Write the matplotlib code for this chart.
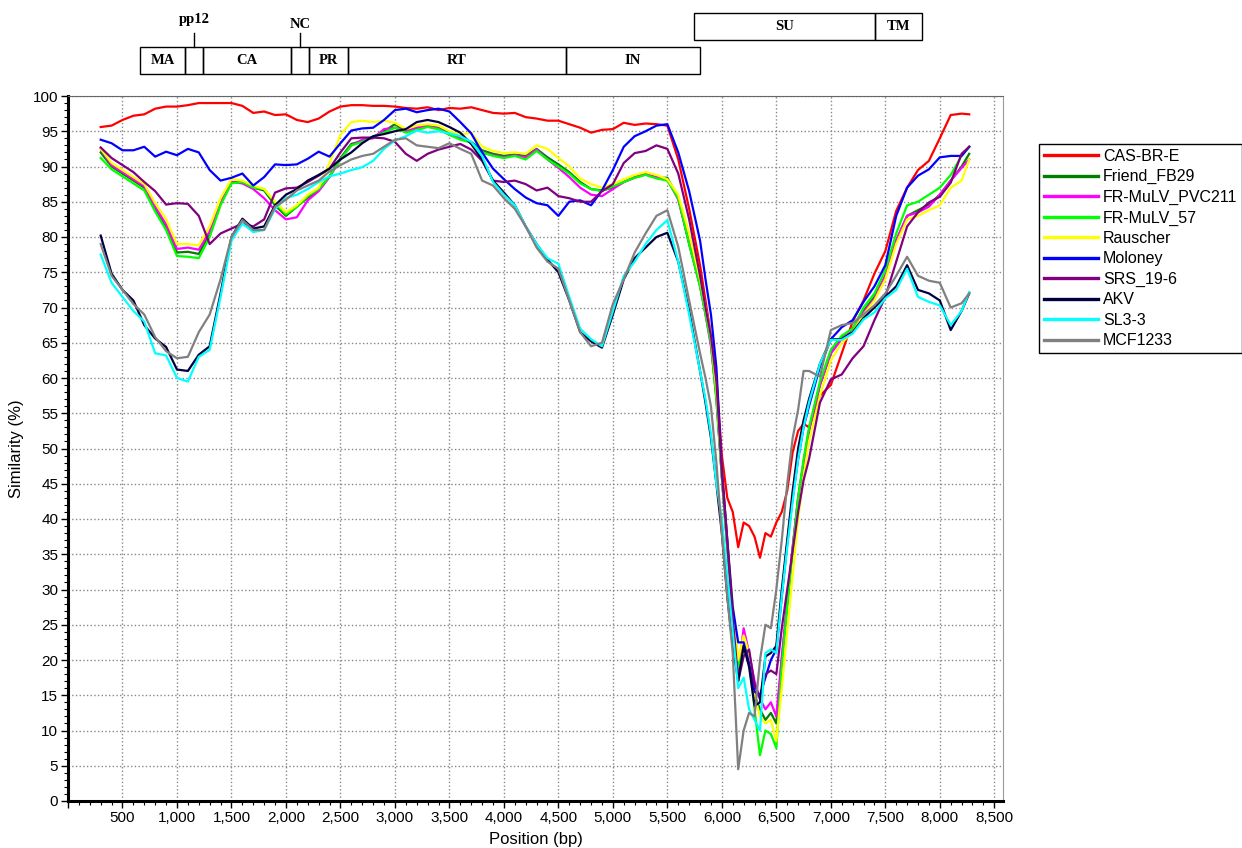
import matplotlib
matplotlib.use("Agg")
import matplotlib.pyplot as plt
from matplotlib.patches import Rectangle
from matplotlib.ticker import MultipleLocator, FuncFormatter

plt.rcParams["font.family"] = ["Liberation Sans", "DejaVu Sans"]

# window midpoints (bp): 100 bp steps, 50 bp steps through the env dip
position = (list(range(300, 5900, 100)) + list(range(5850, 6800, 50))
            + list(range(6800, 8300, 100)) + [8270])

cas_br_e = [95.6, 95.8, 96.6, 97.2, 97.4, 98.2, 98.5, 98.5, 98.7, 99.0,
            99.0, 99.0, 99.0, 98.6, 97.6, 97.8, 97.3, 97.4, 96.6, 96.3,
            96.8, 97.8, 98.5, 98.7, 98.7, 98.6, 98.6, 98.5, 98.3, 98.2,
            98.4, 98.0, 98.3, 98.2, 98.4, 98.0, 97.6, 97.5, 97.6, 97.0,
            96.8, 96.5, 96.5, 96.0, 95.5, 94.8, 95.2, 95.3, 96.2, 95.9,
            96.1, 96.0, 95.8, 91.0, 84.0, 76.0,
            71.0, 66.0, 60.0, 49.0, 43.0, 41.0, 36.0, 39.5, 39.0, 37.5,
            34.5, 38.0, 37.5, 39.5, 41.0, 44.0, 49.5, 52.5, 53.5,
            53.0, 57.5, 59.0, 63.5, 68.0, 71.0, 74.8, 78.0, 83.7, 87.0,
            89.5, 90.8, 94.0, 97.3, 97.5, 97.4]

friend_fb29 = [92.0, 90.0, 89.0, 88.0, 87.0, 84.0, 81.5, 77.8, 77.9, 77.6,
               80.5, 84.8, 87.8, 87.8, 87.0, 86.6, 84.5, 83.0, 84.3, 85.6,
               86.6, 88.6, 91.2, 93.2, 93.6, 94.2, 95.0, 96.0, 95.0, 95.5,
               95.8, 95.5, 94.7, 94.0, 93.5, 92.3, 91.8, 91.5, 91.7, 91.5,
               92.5, 91.3, 90.3, 89.2, 87.8, 86.8, 86.6, 87.0, 87.8, 88.5,
               89.0, 88.4, 88.4, 85.5, 79.0, 73.0,
               69.2, 65.0, 57.0, 46.0, 36.0, 27.0, 19.5, 22.0, 20.0, 15.0,
               13.0, 11.5, 12.5, 11.0, 20.0, 28.0, 36.0, 43.0, 48.0,
               52.5, 59.0, 63.5, 65.8, 67.0, 69.5, 71.5, 74.5, 79.5, 83.0,
               83.8, 84.6, 86.0, 88.0, 90.0, 91.8]

fr_mulv_pvc211 = [92.5, 90.2, 89.2, 88.2, 87.2, 84.3, 81.8, 78.3, 78.5, 78.2,
                  80.8, 84.8, 87.8, 87.6, 86.8, 85.5, 83.8, 82.5, 82.8, 85.2,
                  86.5, 88.5, 91.0, 93.0, 93.8, 94.0, 95.3, 95.5, 95.0, 95.5,
                  95.8, 95.4, 94.5, 94.0, 93.4, 92.0, 91.6, 91.3, 91.6, 91.3,
                  92.4, 91.0, 89.8, 88.5, 87.0, 86.0, 85.8, 86.8, 87.8, 88.4,
                  88.9, 88.5, 88.2, 85.3, 79.2, 73.2,
                  69.0, 64.5, 57.5, 46.0, 36.0, 27.0, 18.0, 24.5, 21.0, 17.0,
                  14.5, 13.0, 14.0, 12.0, 20.5, 28.0, 36.0, 43.0, 48.0,
                  52.5, 59.0, 63.5, 65.5, 67.0, 69.3, 71.2, 74.5, 79.5, 83.0,
                  83.5, 84.3, 86.0, 88.0, 89.8, 91.0]

fr_mulv_57 = [91.2, 89.6, 88.6, 87.6, 86.6, 83.6, 81.0, 77.3, 77.2, 77.0,
              80.0, 84.5, 87.6, 87.8, 87.0, 86.8, 84.8, 83.2, 84.3, 85.8,
              86.8, 88.6, 91.0, 93.0, 93.5, 94.2, 94.8, 95.5, 94.8, 95.2,
              95.6, 95.3, 94.5, 93.8, 93.4, 92.0, 91.5, 91.2, 91.5, 91.0,
              92.2, 91.0, 90.0, 89.0, 87.6, 86.8, 86.5, 87.2, 87.8, 88.4,
              88.8, 88.3, 88.0, 85.5, 79.0, 73.0,
              69.0, 65.0, 57.0, 46.0, 36.0, 27.0, 19.0, 21.5, 20.0, 13.0,
              6.5, 10.0, 9.5, 7.5, 19.0, 27.5, 35.5, 43.0, 48.5,
              53.0, 59.5, 64.0, 66.0, 67.0, 70.0, 72.0, 75.3, 80.5, 84.5,
              85.0, 86.0, 87.0, 88.8, 91.5, 92.8]

rauscher = [92.5, 90.5, 89.5, 88.5, 87.5, 84.8, 82.5, 79.0, 79.0, 78.8,
            81.5, 85.5, 88.2, 88.0, 87.3, 86.8, 85.0, 83.5, 84.5, 86.0,
            87.0, 90.5, 94.5, 96.3, 96.5, 96.3, 96.5, 96.2, 95.3, 95.8,
            96.0, 95.8, 95.0, 94.5, 94.8, 92.8, 92.2, 91.9, 92.0, 91.8,
            93.0, 92.5, 91.2, 90.0, 88.3, 87.5, 87.0, 87.5, 88.2, 88.8,
            89.2, 88.8, 88.2, 86.0, 80.5, 74.0,
            70.0, 66.0, 58.5, 47.0, 37.0, 28.0, 20.0, 23.5, 21.0, 15.0,
            12.0, 11.0, 11.5, 8.5, 16.0, 24.0, 32.0, 40.0, 46.0,
            51.0, 57.5, 62.5, 65.0, 66.5, 69.0, 71.0, 74.0, 79.0, 82.5,
            83.0, 83.8, 84.5, 87.0, 88.0, 91.0]

moloney = [93.8, 93.3, 92.3, 92.3, 92.8, 91.4, 92.1, 91.6, 92.5, 92.0,
           89.5, 88.0, 88.4, 89.0, 87.3, 88.5, 90.3, 90.2, 90.3, 91.1,
           92.1, 91.4, 93.3, 95.1, 95.4, 95.5, 96.6, 98.0, 98.2, 97.7,
           98.0, 98.2, 97.8, 96.3, 94.7, 92.0, 89.7, 88.2, 86.8, 85.6,
           84.8, 84.5, 83.0, 85.0, 85.2, 84.5, 86.6, 89.5, 92.8, 94.3,
           95.0, 95.8, 96.0, 92.0, 86.5, 79.5,
           74.0, 69.0, 61.5, 47.0, 37.0, 27.5, 22.5, 22.5, 19.5, 15.5,
           15.0, 17.5, 20.0, 21.5, 29.0, 36.5, 43.0, 48.5, 53.0,
           56.0, 61.6, 65.5, 67.2, 68.2, 70.8, 73.0, 76.0, 83.0, 87.0,
           88.7, 89.6, 91.3, 91.5, 91.5, 92.8]

srs_19_6 = [92.7, 91.2, 90.2, 89.2, 87.8, 86.5, 84.6, 84.8, 84.7, 83.0,
            79.0, 80.5, 81.2, 81.9, 81.5, 82.5, 86.3, 86.9, 87.0, 87.8,
            88.7, 89.7, 92.0, 94.0, 94.1, 94.1, 94.0, 93.5, 91.8, 90.8,
            91.8, 92.4, 92.8, 93.2, 92.4, 90.8, 88.0, 87.8, 88.0, 87.5,
            86.6, 87.0, 85.8, 85.5, 85.0, 85.0, 86.5, 87.5, 90.5, 91.9,
            92.2, 93.0, 92.5, 89.0, 82.5, 74.5,
            70.0, 66.0, 59.5, 47.0, 37.0, 26.0, 17.0, 20.5, 21.5, 16.5,
            14.5, 18.0, 18.5, 18.0, 24.5, 30.0, 35.5, 41.0, 45.5,
            48.5, 56.5, 59.8, 60.5, 62.8, 64.5, 68.2, 71.5, 76.5, 81.5,
            83.5, 84.9, 85.7, 87.7, 91.8, 92.8]

akv = [80.2, 74.8, 72.5, 71.0, 67.5, 65.6, 64.4, 61.2, 61.0, 63.3,
       64.5, 72.0, 80.0, 82.6, 81.2, 81.5, 84.5, 86.0, 86.8, 88.0,
       88.8, 89.7, 91.0, 92.0, 93.3, 94.3, 94.6, 95.0, 95.3, 96.3,
       96.6, 96.3, 95.6, 94.8, 93.2, 91.0, 88.0, 86.3, 84.5, 81.5,
       79.0, 76.8, 75.0, 71.0, 66.5, 65.2, 64.3, 69.0, 74.0, 77.0,
       78.5, 80.0, 80.6, 76.5, 69.5, 61.0,
       56.5, 51.5, 45.0, 38.0, 29.0, 22.0, 17.0, 22.0, 19.0, 13.5,
       14.0, 20.5, 21.0, 22.0, 30.0, 37.0, 44.0, 50.0, 54.0,
       57.0, 62.0, 65.5, 65.5, 66.5, 68.5, 70.0, 71.5, 73.0, 76.0,
       72.5, 72.0, 71.0, 66.8, 69.5, 72.0]

sl3_3 = [77.5, 73.5, 71.5, 69.5, 68.0, 63.5, 63.2, 60.0, 59.5, 63.0,
         64.0, 71.5, 79.5, 81.9, 80.7, 81.0, 84.0, 85.5, 86.0, 86.8,
         87.8, 88.6, 89.0, 89.5, 89.9, 90.8, 92.5, 93.7, 94.3, 95.1,
         94.8, 95.0, 94.7, 94.3, 93.5, 91.5, 87.8, 86.0, 84.5, 81.5,
         79.0, 77.0, 76.2, 71.5, 67.0, 65.5, 64.5, 69.5, 74.5, 76.5,
         79.0, 81.0, 82.4, 76.5, 69.0, 61.0,
         57.0, 52.0, 45.0, 40.0, 32.0, 24.0, 16.0, 17.5, 13.0, 11.5,
         10.0, 21.0, 21.5, 21.0, 29.0, 36.0, 42.5, 48.5, 53.0,
         56.5, 62.0, 65.4, 65.4, 66.3, 68.3, 69.3, 71.3, 72.5, 75.5,
         71.5, 70.8, 70.3, 67.5, 69.5, 72.2]

mcf1233 = [79.0, 74.5, 72.5, 70.5, 69.0, 65.8, 63.8, 62.8, 63.0, 66.5,
           69.0, 74.0, 80.0, 82.4, 81.0, 81.0, 84.3, 85.3, 86.6, 87.3,
           88.0, 89.3, 90.2, 91.0, 91.5, 91.8, 92.8, 93.8, 94.0, 93.0,
           92.8, 92.6, 93.3, 92.5, 91.8, 88.0, 87.3, 85.5, 84.0, 81.5,
           78.5, 76.5, 75.5, 71.0, 66.5, 64.5, 65.0, 70.5, 74.0, 77.8,
           80.5, 83.0, 83.8, 78.6, 71.0, 63.5,
           60.0, 56.0, 48.0, 38.0, 29.0, 21.0, 4.5, 10.0, 12.5, 12.0,
           20.0, 25.0, 24.5, 30.0, 37.0, 45.0, 51.5, 55.5, 61.0,
           61.0, 60.2, 66.8, 67.5, 67.8, 69.0, 70.3, 72.0, 74.5, 77.2,
           74.5, 73.8, 73.5, 70.0, 70.6, 72.0]

series_names = ["CAS-BR-E", "Friend_FB29", "FR-MuLV_PVC211", "FR-MuLV_57",
                "Rauscher", "Moloney", "SRS_19-6", "AKV", "SL3-3", "MCF1233"]
series_values = [cas_br_e, friend_fb29, fr_mulv_pvc211, fr_mulv_57, rauscher,
                 moloney, srs_19_6, akv, sl3_3, mcf1233]
series_colors = ["#ff0000", "#008000", "#ff00ff", "#00ff00", "#ffff00",
                 "#0000ff", "#800080", "#000040", "#00ffff", "#808080"]

# genome map (bp): gag/pol row and env row
gag_pol_names = ["MA", "", "CA", "", "PR", "RT", "IN"]
gag_pol_bounds = [660, 1078, 1239, 2050, 2216, 2569, 4572, 5798]
env_names = ["SU", "TM"]
env_bounds = [5743, 7404, 7835]
small_names = ["pp12", "NC"]
small_pos = [1158, 2133]

X_MAX = 8580
W, H = 1242, 848

fig = plt.figure(figsize=(W / 100, H / 100), dpi=100)
ax = fig.add_axes([68 / W, 1 - 801 / H, (1003 - 68) / W, (801 - 96) / H])

for name, vals, col in zip(series_names, series_values, series_colors):
    ax.plot(position, vals, color=col, lw=1.6, label=name, zorder=3)

ax.set_xlim(0, X_MAX)
ax.set_ylim(0, 100)
ax.xaxis.set_major_locator(MultipleLocator(500))
ax.xaxis.set_minor_locator(MultipleLocator(100))
ax.yaxis.set_major_locator(MultipleLocator(5))
ax.yaxis.set_minor_locator(MultipleLocator(1))
ax.xaxis.set_major_formatter(FuncFormatter(lambda v, p: "" if v == 0 else f"{int(v):,}"))
ax.yaxis.set_major_formatter(FuncFormatter(lambda v, p: f"{int(v)}"))
ax.tick_params(which="major", length=5, width=1, labelsize=11, pad=2)
ax.tick_params(which="minor", length=3, width=0.8)
ax.grid(True, which="major", color="#888888", linestyle=":", lw=1)

for side in ("left", "bottom"):
    ax.spines[side].set_linewidth(2.2)
    ax.spines[side].set_color("black")
ax.spines["top"].set_color("#666666")
ax.spines["top"].set_linewidth(0.8)
ax.spines["right"].set_color("#999999")
ax.spines["right"].set_linewidth(0.8)

ax.set_xlabel("Position (bp)", fontsize=12, labelpad=5)
ax.set_ylabel("Similarity (%)", fontsize=12, labelpad=6)

leg = fig.legend(loc="upper left", bbox_to_anchor=(1039 / W, 1 - 144 / H),
                 fontsize=11.5, handlelength=3.4, handletextpad=0.3,
                 labelspacing=0.34, borderpad=0.3, fancybox=False,
                 edgecolor="black", framealpha=1, borderaxespad=0)
leg.get_frame().set_linewidth(1)
for line in leg.get_lines():
    line.set_linewidth(2.4)

# genome map above the plot, y in pixel rows
gax = fig.add_axes([68 / W, 1 - 96 / H, (1003 - 68) / W, 96 / H])
gax.set_xlim(0, X_MAX)
gax.set_ylim(96, 0)
gax.axis("off")

label_font = dict(family=["Liberation Serif", "DejaVu Serif"], weight="bold", fontsize=10.5)

for i, name in enumerate(gag_pol_names):
    x0, x1 = gag_pol_bounds[i], gag_pol_bounds[i + 1]
    gax.add_patch(Rectangle((x0, 47), x1 - x0, 27, fill=False, ec="black", lw=1))
    if name:
        gax.text((x0 + x1) / 2, 61, name, ha="center", va="center", **label_font)

for i, name in enumerate(env_names):
    x0, x1 = env_bounds[i], env_bounds[i + 1]
    gax.add_patch(Rectangle((x0, 13), x1 - x0, 27, fill=False, ec="black", lw=1))
    gax.text((x0 + x1) / 2, 27, name, ha="center", va="center", **label_font)

for name, xp, ty in zip(small_names, small_pos, [20, 25]):
    gax.plot([xp, xp], [33, 47], color="black", lw=1)
    gax.text(xp, ty, name, ha="center", va="center", **label_font)

fig.savefig("out.png", dpi=100)
